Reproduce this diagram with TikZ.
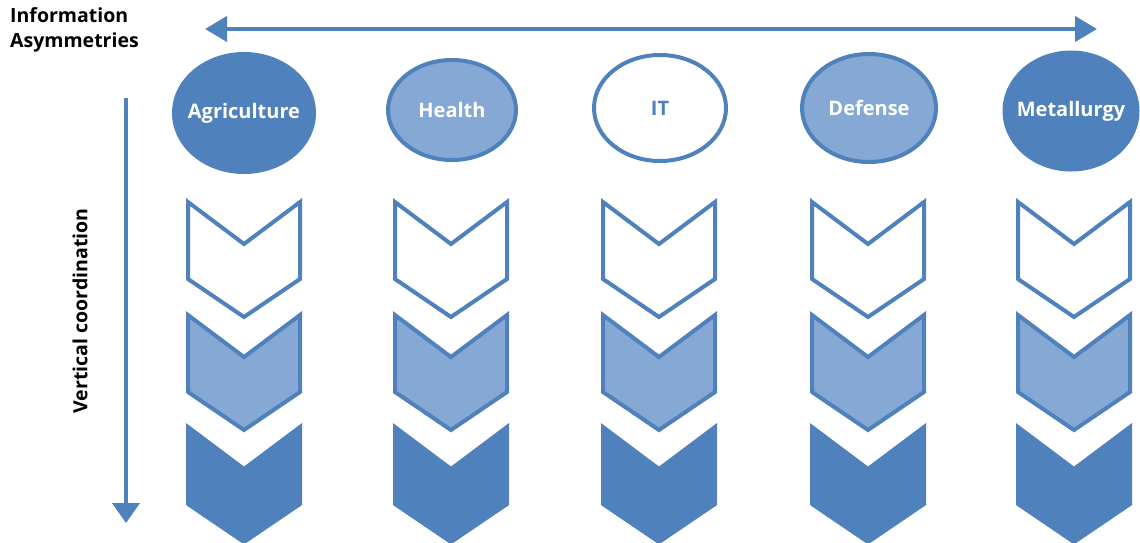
\documentclass[tikz,border=0pt]{standalone}
\usepackage{fontspec}
\setmainfont{Open Sans}
\usetikzlibrary{shapes.geometric,arrows.meta}
\definecolor{dblue}{HTML}{4F81BD}
\definecolor{lblue}{HTML}{85A8D4}
\newcommand\mychev[3]{%
  \draw[chevline,#3] (#1-56,#2) -- (#1,#2+42) -- (#1+56,#2) -- (#1+56,#2+77) -- (#1,#2+115) -- (#1-56,#2+77) -- cycle;}
\tikzset{
  chevline/.style={line width=4pt,draw=dblue,line join=miter},
  cwhite/.style={fill=white},
  clight/.style={fill=lblue},
  cdark/.style={fill=dblue},
  sector/.style={ellipse,inner sep=-30pt,font=\bfseries\fontsize{20}{24}\selectfont,text=white},
  edark/.style={sector,fill=dblue},
  elight/.style={sector,fill=lblue,draw=dblue,line width=4pt},
  ewhite/.style={sector,fill=white,draw=dblue,line width=4pt,text=dblue},
  axis/.style={draw=dblue,line width=4pt},
  lab/.style={font=\bfseries\fontsize{19.5}{25}\selectfont,text=black,inner sep=0pt}
}
\begin{document}
\begin{tikzpicture}[x=1pt,y=-1pt]
\useasboundingbox (0,0) rectangle (1140,542);
\fill[white] (0,0) rectangle (1140,542);
% labels
\node[lab,anchor=north west,align=left] (info) at (10,7) {Information\\Asymmetries};
\node[lab,rotate=90] (vert) at (80,311) {Vertical coordination};
% axes
\coordinate (hl) at (205,29);
\coordinate (hr) at (1097,29);
\draw[axis,{Triangle[length=22pt,width=25pt]}-{Triangle[length=22pt,width=25pt]}] (hl) -- (hr);
\coordinate (vt) at (126,98);
\coordinate (vb) at (126,523);
\draw[axis,-{Triangle[length=20pt,width=27pt]}] (vt) -- (vb);
% sectors
\node[edark,minimum width=144pt,minimum height=122pt] (agri) at (244,113) {Agriculture};
\node[elight,minimum width=128pt,minimum height=100pt] (health) at (452,110) {Health};
\node[ewhite,minimum width=132pt,minimum height=106pt] (it) at (660,108) {IT};
\node[elight,minimum width=134pt,minimum height=108pt] (def) at (869,108) {Defense};
\node[edark,minimum width=137pt,minimum height=121pt] (met) at (1071,111) {Metallurgy};
% chevrons
\foreach \cx in {244,451,659,868,1074}{
  \mychev{\cx}{202}{cwhite}
  \mychev{\cx}{315}{clight}
  \mychev{\cx}{427}{cdark}
}
\end{tikzpicture}
\end{document}
